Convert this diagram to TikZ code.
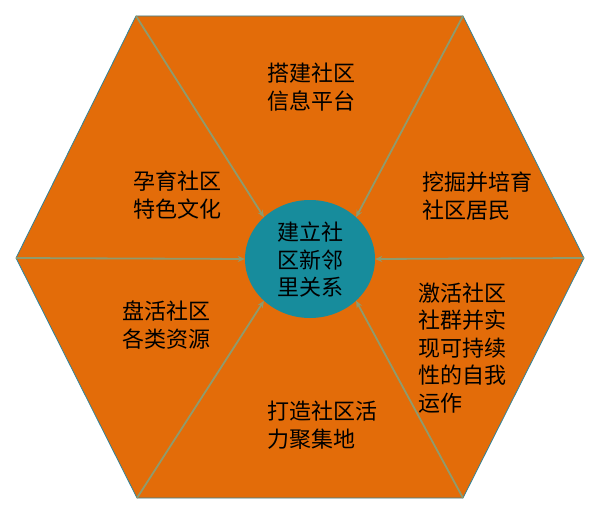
\documentclass[tikz,border=0pt]{standalone}
\usepackage{fontspec}
\setmainfont{Noto Sans CJK SC}
\usetikzlibrary{arrows.meta,shapes.geometric}
\definecolor{hexorange}{HTML}{E36C09}
\definecolor{hexedge}{HTML}{31849B}
\definecolor{spoke}{HTML}{8E9B6E}
\definecolor{hub}{HTML}{178C9C}
\begin{document}
\begin{tikzpicture}[x=1pt,y=-1pt,
  lbl/.style={inner sep=0pt, font=\fontsize{22}{27.5}\selectfont, align=left, anchor=west},
  spokeline/.style={draw=spoke, line width=1.8pt, -{Stealth[length=7pt,width=6pt]}}]
\useasboundingbox (0,0) rectangle (598,511);
\coordinate (L) at (16,258);
\coordinate (TL) at (136,16);
\coordinate (TR) at (463,16);
\coordinate (R) at (584,258);
\coordinate (BR) at (463,498);
\coordinate (BL) at (137,498);
\filldraw[fill=hexorange, draw=hexedge, line width=0.8pt] (L) -- (TL) -- (TR) -- (R) -- (BR) -- (BL) -- cycle;
\node[ellipse, fill=hub, minimum width=130pt, minimum height=118pt, inner sep=0pt] (C) at (310,259) {};
\foreach \v/\a in {L/west, TL/north west, TR/north east, R/east, BR/south east, BL/south west}
  \draw[spokeline] (\v) -- (C.\a);
\node[lbl, anchor=center, align=center] (hubtext) at (310,260) {建立社\\区新邻\\里关系};
\node[lbl] (t1) at (267,87) {搭建社区\\信息平台};
\node[lbl] (t2) at (133,195) {孕育社区\\特色文化};
\node[lbl] (t3) at (422,196) {挖掘并培育\\社区居民};
\node[lbl] (t4) at (122,325) {盘活社区\\各类资源};
\node[lbl] (t5) at (418,348) {激活社区\\社群并实\\现可持续\\性的自我\\运作};
\node[lbl] (t6) at (267,425) {打造社区活\\力聚集地};
\end{tikzpicture}
\end{document}
